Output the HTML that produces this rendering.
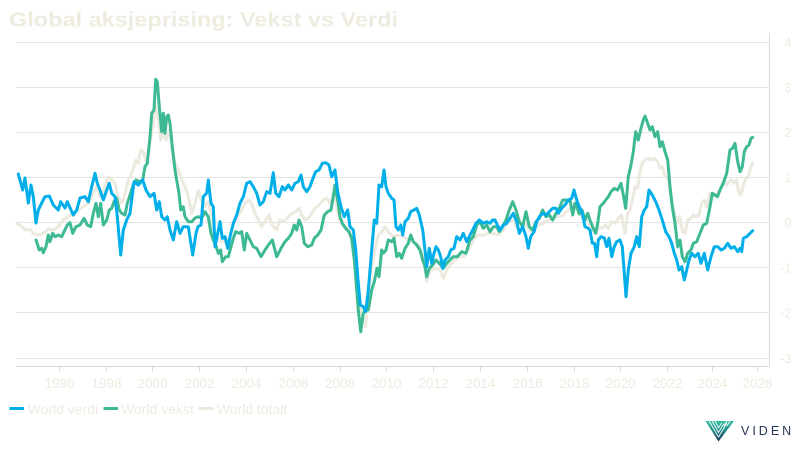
<!DOCTYPE html>
<html>
<head>
<meta charset="utf-8">
<style>
html,body{margin:0;padding:0;background:#ffffff;}
svg{display:block;}
text{font-family:"Liberation Sans",Arial,sans-serif;}
</style>
</head>
<body>
<svg width="800" height="450" viewBox="0 0 800 450" xmlns="http://www.w3.org/2000/svg">
<rect x="0" y="0" width="800" height="450" fill="#ffffff"/>
<text x="9" y="26.5" font-family="DejaVu Sans, Liberation Sans, sans-serif" font-weight="bold" font-size="20" fill="#EEEBDF" textLength="389" lengthAdjust="spacingAndGlyphs">Global aksjeprising: Vekst vs Verdi</text>

<!-- gridlines -->
<g stroke="#E3E3E3" stroke-width="1">
<line x1="16" y1="42.5" x2="769" y2="42.5"/>
<line x1="16" y1="87.5" x2="769" y2="87.5"/>
<line x1="16" y1="132.5" x2="769" y2="132.5"/>
<line x1="16" y1="177.5" x2="769" y2="177.5"/>
<line x1="16" y1="222.5" x2="769" y2="222.5"/>
<line x1="16" y1="267.5" x2="769" y2="267.5"/>
<line x1="16" y1="312.5" x2="769" y2="312.5"/>
<line x1="16" y1="358.5" x2="769" y2="358.5"/>
</g>
<!-- axes -->
<g stroke="#DADADA" stroke-width="1">
<line x1="16" y1="366.5" x2="769.5" y2="366.5"/>
<line x1="769.5" y1="33" x2="769.5" y2="366.5"/>
<line x1="59.5" y1="367" x2="59.5" y2="372"/>
<line x1="106.5" y1="367" x2="106.5" y2="372"/>
<line x1="152.5" y1="367" x2="152.5" y2="372"/>
<line x1="199.5" y1="367" x2="199.5" y2="372"/>
<line x1="246.5" y1="367" x2="246.5" y2="372"/>
<line x1="293.5" y1="367" x2="293.5" y2="372"/>
<line x1="340.5" y1="367" x2="340.5" y2="372"/>
<line x1="386.5" y1="367" x2="386.5" y2="372"/>
<line x1="433.5" y1="367" x2="433.5" y2="372"/>
<line x1="480.5" y1="367" x2="480.5" y2="372"/>
<line x1="527.5" y1="367" x2="527.5" y2="372"/>
<line x1="574.5" y1="367" x2="574.5" y2="372"/>
<line x1="620.5" y1="367" x2="620.5" y2="372"/>
<line x1="667.5" y1="367" x2="667.5" y2="372"/>
<line x1="712.5" y1="367" x2="712.5" y2="372"/>
<line x1="757.5" y1="367" x2="757.5" y2="372"/>
</g>

<!-- x labels -->
<g fill="#EEEBDF" font-size="13.5" text-anchor="middle">
<text x="59.5" y="388">1996</text>
<text x="106.5" y="388">1998</text>
<text x="152.5" y="388">2000</text>
<text x="199.5" y="388">2002</text>
<text x="246.5" y="388">2004</text>
<text x="293.5" y="388">2006</text>
<text x="340" y="388">2008</text>
<text x="386.5" y="388">2010</text>
<text x="433.5" y="388">2012</text>
<text x="480.5" y="388">2014</text>
<text x="527.5" y="388">2016</text>
<text x="574.5" y="388">2018</text>
<text x="620.5" y="388">2020</text>
<text x="667.5" y="388">2022</text>
<text x="712.5" y="388">2024</text>
<text x="757.5" y="388">2026</text>
</g>
<!-- y labels -->
<g fill="#EEEBDF" font-size="12.5" text-anchor="end">
<text x="791.5" y="47">4</text>
<text x="791.5" y="92">3</text>
<text x="791.5" y="137">2</text>
<text x="791.5" y="182">1</text>
<text x="791.5" y="227">0</text>
<text x="791.5" y="272.5">-1</text>
<text x="791.5" y="317.5">-2</text>
<text x="791.5" y="363">-3</text>
</g>

<!-- series -->
<g fill="none" stroke-width="3" stroke-linejoin="round" stroke-linecap="round">
<polyline stroke="#ECE9DE" points="16.7,223.3 20,225 25,230 30,229.3 33.3,233.3 38.3,235 43.3,233.3 48.3,229.3 53.3,230 58.3,226.7 63.3,220 68.3,216.7 73.3,213.3 78.3,210 83.3,206.7 88.3,203.3 93.3,193.3 96.7,186.7 100,196.7 104,190 108.3,176.7 111.7,180 115,183.3 118.3,196.7 121.7,203.3 125,193.3 128.3,180 131.7,173.3 136,160 138.3,163.3 140.7,150 143.3,151.7 146.7,163.3 150,141.7 153.3,123.3 155.7,106.7 158.3,120 160.7,140 163.3,130 166,140 169.3,130 172.7,153.3 175,163.3 178.3,170 181.7,180 185,186.7 188.3,196.7 191.7,213.3 195,203.3 198.3,190 201.7,201.7 205,206.7 208.3,201.7 211.7,216.7 215,235 218.3,240 221.7,241.7 226.7,241.7 230,236.7 233.3,225 236.7,218.3 241.7,210 245,203.3 248.3,200 251.7,203.3 255,213.3 258.3,220 261.7,226.7 265,221.7 269,215 272.3,225 276.7,230 280,220 284.3,221.7 288.3,216.7 292.3,213.3 295.7,211.7 299,208.3 301.7,215 305,220 308.3,218.3 311.7,213.3 315,208.3 319,205 323.3,200 326.7,198.3 330,203.3 333.3,193.3 335.7,200 339,218.3 342.3,225 346.7,230 351,236.7 354.3,253.3 357.7,286.7 360,306.7 363.3,320 365.7,326.7 368.3,300 371.7,266.7 375,250 378.3,235 381,233 385,226.7 388.3,231.7 393.3,236.7 398.3,235 403.3,236.7 408.3,240 413.3,241.7 418.3,245 423.3,256.7 426.7,281.7 430,270 435,268.3 440,270 443.3,278.3 448.3,266.7 453.3,261.7 458.3,256.7 463.3,256.7 468.3,250 473.3,240 478.3,235 483.3,235 488.3,233.3 493.3,233.3 498.3,235 503.3,230 508.3,221.7 513.3,220 516.7,226.7 520,230 525,223.3 529.3,230 533.3,231.7 538.3,225 543.3,223.3 548.3,220 553.3,218.3 558.3,216.7 563.3,215 568.3,210 572.7,208.3 575,203 578.3,210 581.7,216.7 586.7,220 591.7,228.3 595.7,233.3 599,226.7 602.3,228.3 605.7,225 608.3,228.3 611.7,221.7 615,223.3 618.3,218.3 621.7,215 625,233.3 627.7,213.3 630,210 632.3,200 635,186.7 637.7,188.3 640,171.7 642.3,163.3 645,160 648.3,158.3 651,160 654.3,158.3 657.7,161.7 660,168.3 662.3,166.7 665,176.7 667.7,176.7 670,191.7 672.3,203.3 675,215 677.7,223.3 680,216.7 682.3,231.7 685,233.3 687.7,220 691,218.3 693.3,215 696,216.7 699,215 701.7,203.3 704.3,200 706.7,206.7 710,193.3 713.3,196.7 716.7,193.3 720,190 723.3,180 726.7,185 729,181.7 731.7,180 734.3,183.3 736.7,180 739,193.3 741,195 743.3,185 745.7,178.3 748.3,176.7 751,166.7 752.7,162.7"/>
<polyline stroke="#3DB994" points="36,240 39.3,250 41.7,248.3 43.3,252.7 46,246.7 48.3,235 50,241.7 52.7,233.3 55,236.7 58.3,235 61.7,236.7 64,231.7 67.3,225 70,222.7 72.7,233.3 76,226.7 80,225 84,218.3 87.3,225 90.7,226.7 93.3,213.3 96,203.3 98.3,216.7 100.7,203.3 103.3,225 106.7,220 109.3,210 111.7,208.3 114,201.7 116.7,198.3 119.3,210 121.7,213.3 125,215 127.3,203.3 130,195 133.3,185 136,180 139.3,181.7 142.7,180 145,166.7 147.3,163.3 150,136.7 151.7,113.3 154,110 155.7,79.3 157.3,81.7 159.3,106.7 161.7,131.7 163.3,113.3 165,133.3 166.7,116.7 168.3,115 170,123.3 172.3,146.7 175,170 176.7,180 179,193.3 180.7,210 183.3,206.7 185,216.7 188.3,221.7 191.7,221.7 195,218 198.3,216.7 201.7,218 205,211.7 208.3,216.7 211,233.3 213.3,240 215.7,245 218.3,253.3 220.7,250 222.3,261.7 225.7,256.7 228.3,256.7 231,246.7 233.3,238.3 235.7,231.7 239,233.3 241.7,231.7 244.3,250 246.7,233.3 250,240 253.3,246.7 256.7,248.3 261,256.7 265,250 268.3,245 272.3,240 276.7,256.7 281,248.3 285,241.7 288.3,238.3 291.7,233.3 294.3,225 296.7,230 299,220 301.7,226.7 304.3,243.3 307.7,246.7 311.7,245 314.3,238.3 317.7,235 321,230 324.3,215 327.7,211.7 331,210 333.3,196.7 335,185 337.7,200 340,216.7 342.3,223.3 345.7,228.3 349,231.7 351.7,238.3 354.3,260 356.7,290 358.3,310 360.7,331.7 363.3,313.3 365.7,310 368.3,310 371.7,290 374.3,281.7 377,268.3 379,276.7 381.7,250 383.5,253 386,250 388.3,240 391.7,241.7 394,238.3 396.7,256.7 399.3,253.3 401.7,258.3 405,248.3 408.3,243.3 410.7,235 413.3,241.7 416.7,245 420,250 422.7,260 425,266.7 426.7,276.7 429.3,268.3 432.7,265 436,260 439.3,263.3 443.3,268.3 446.7,263.3 450,260 453.3,256.7 457.3,256.7 461.7,251.7 466,253.3 470,240 473.3,236.7 476.7,225 480,221.7 483.3,228.3 486.7,225 490,231.7 493.3,226.7 496.7,226.7 499.3,231.7 502.7,226.7 506,220 509.3,210 512.7,201.7 516,210 519.3,221.7 522.7,226.7 526,211.7 529.3,226.7 532.7,230 536,221.7 539.3,218.3 542.7,210 546,216.7 549.3,215 552.7,220 556,213.3 559.3,208.3 562.7,200 566.7,200 570,200 572.7,215 575,203.3 577.3,208.3 579.3,214 582,210 585,220 587.7,213.3 590,220 593.3,228.3 595.7,233.3 597.7,223.3 600,206.7 603.3,203.3 605.7,200 608.3,196.7 611,191.7 614.3,188.3 617.7,190 621,183.3 623.3,195 625.7,208.3 628.3,176.7 631,165 633.3,151.7 635.7,131.7 638.3,140 641,128.3 643.3,120 645,116 647.7,123.3 650,130 652.3,126.7 655,136.7 657.7,131.7 660,146.7 662.3,141.7 665,151.7 667.7,160 670,186.7 672.3,206.7 675,223.3 677.7,246.7 680,240 682.3,256.7 685,261.7 687.7,253.3 691,250 693.3,243.3 696.7,241.7 700,233.3 703.3,225 706.7,223.3 710,206.7 712.3,193.3 715,195 717.5,196.7 720,190 723.3,183.3 726.7,173.3 730,150 732.5,148.3 735,143.3 737.7,161.7 740,171.7 742.3,166.7 744.3,151.7 746.7,146.7 749,145 751,138.3 752.7,137.3"/>
<polyline stroke="#00AEEA" points="18.3,174 22.7,190 25,178 28.3,203 31,185 33.3,196.7 36,223 38.3,210 41.7,203 45,196.7 49.3,196 53.3,205 58.3,210 60.7,201.7 65,208 67.3,201.7 73.3,215 76.7,210 80,198 85,196.7 88.3,201.7 91.7,186.7 95,173.3 97.3,183.3 100,190 103.3,200 106.7,190 109.3,183.3 111.7,193.3 115,196.7 117.3,216.7 120.7,255 123.3,230 126.7,220 130,213.3 134,181.7 138.3,185 142.7,180 146,190 150,196.7 154,193.3 156.7,210 159.3,201.7 161.7,216.7 165,220 167.3,216.7 170,230 173.3,240 176.7,221.7 180,233.3 183.3,226.7 188.3,226.7 192.7,255 196,233.3 198,226.7 201,225 203.3,196.7 206.7,193 208.3,180 211,203.3 213.3,206.7 215,246.7 217.7,233.3 220,221.7 222.3,238.3 225,236.7 227.7,248.3 230,236.7 233.3,223.3 236.7,215 240,203.3 243.3,196.7 246.7,183.3 250,181.7 253.3,186.7 256.7,193.3 260,205 263.3,201.7 266.7,191.7 270,193.3 273.3,172.7 275.7,193.3 279,196.7 282.3,186.7 285,190 288.3,185 291.7,190 295,183.3 298.3,181.7 301,175 303.3,186.7 306.7,191.7 310,186.7 312.3,180 315.7,171.7 319,170 322.3,163.3 325.7,162.7 329,165 331.7,176.7 335,170 337.7,191.7 341,206.7 344.3,216.7 347.7,210 350,226.7 353.3,230 355.7,250 358.3,283.3 360.3,305 363.3,306.7 365.7,311.7 368.3,290 371.7,250 374.3,220 376.7,223.3 379,185 381.7,186.7 384,170 386,186.7 388.3,193.3 391.7,198.3 394,200 396,226.7 398.3,230 400.7,225 402.7,235 405,221.7 408.3,218.3 410.7,211.7 414,210 416.7,208.3 419.3,215 422.7,230 425,250 426.7,266.7 429.3,248.3 431.7,263.3 434,253.3 436,246.7 438.3,250 440.7,256.7 442.7,268.3 445,260 448.3,256.7 450.7,250 454,248.3 456.7,236.7 460,240 463.3,233.3 466.7,241.7 470,235 472.7,230 476,223.3 479.3,220 483.3,223.3 486.7,221.7 490,223.3 492.7,220 495,220 497.3,225 500,230 503.3,225 506.7,223.3 510,218.3 513.3,213.3 516.7,221.7 519.3,233.3 522.7,226.7 526,236.7 528.3,248.3 530.7,236.7 534,231.7 536.7,221.7 539.3,216.7 542.7,213.3 546,215 549.3,211.7 552.7,208.3 556,208.3 558.3,213.3 561.7,208.3 565,205 568.3,200 571.7,198.3 574,190 576.7,200 578.5,205 582.3,213.3 585,226.7 587.7,228 590,230 592.3,243.3 594.5,243.3 596.7,256.7 598.3,240 601,236.7 604.3,238 606.7,246.7 609,238.3 611.7,256.7 614.3,246.7 616.7,241.7 620,240 622.3,246.7 624.3,273.3 626,296.7 628.3,270 631,253.3 634.3,246.7 636.7,236.7 639.3,246.7 641.7,216.7 644.3,210 646.7,206.7 649,190 652.3,195 655.7,201.7 659,210 662.3,220 665.7,231.7 669,236.7 671.7,243.3 674.3,253.3 676.7,260 679,270 681.7,266.7 684.3,280 686.7,270 689,260 691.7,253.3 695,256.7 698.3,253.3 701,263.3 704.3,253.3 707.7,270 711,256.7 714.3,246.7 717.7,246.7 721,250 724.3,248.3 727.7,243.3 731,248.3 734.3,246.7 737.7,251.7 740,248.3 741.7,251.7 743.3,238.3 746.7,236.7 750,233.3 752.7,230.7"/>
</g>

<!-- legend -->
<g stroke-width="3">
<line x1="9.5" y1="408.5" x2="24" y2="408.5" stroke="#00AEEA"/>
<line x1="103.5" y1="408.5" x2="118" y2="408.5" stroke="#3DB994"/>
<line x1="198.5" y1="408.5" x2="213.5" y2="408.5" stroke="#ECE9DE"/>
</g>
<g fill="#EEEBDF" font-size="14">
<text x="27.7" y="414">World verdi</text>
<text x="121" y="414">World vekst</text>
<text x="216.7" y="414">World totalt</text>
</g>

<!-- logo -->
<defs>
<linearGradient id="lg" x1="0" y1="0" x2="0" y2="1">
<stop offset="0" stop-color="#34C2A4"/>
<stop offset="0.45" stop-color="#1F8C8A"/>
<stop offset="1" stop-color="#1E2F52"/>
</linearGradient>
</defs>
<polygon points="705.5,421 734,421 718.5,441.5" fill="url(#lg)"/>
<g fill="none" stroke="#ffffff" stroke-width="0.9">
<polyline points="709,421 718.5,437 727,423"/>
<polyline points="712,421 718.5,432.5 724,423.5"/>
<polyline points="715,421 718.5,428 721.5,423"/>
<line x1="727" y1="421" x2="724" y2="426"/>
<line x1="730" y1="421" x2="727" y2="426"/>
</g>
<text x="741" y="435" font-size="12.5" fill="#253656" letter-spacing="3">VIDEN</text>
</svg>
</body>
</html>
